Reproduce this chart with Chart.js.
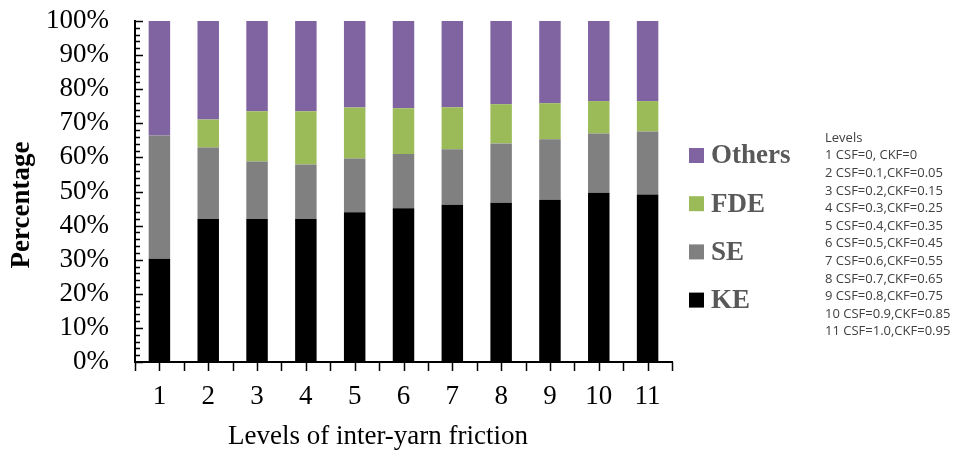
<!DOCTYPE html>
<html>
<head>
<meta charset="utf-8">
<script src="https://cdn.jsdelivr.net/npm/chart.js@4"></script>
<style>
  html, body { margin: 0; padding: 0; background: #fff; }
  canvas { display: block; }
</style>
</head>
<body>
<canvas id="myChart" width="969" height="452"></canvas>
<script>
"use strict";

var categories = ['1', '2', '3', '4', '5', '6', '7', '8', '9', '10', '11'];
var keValues = [30.3, 41.9, 41.9, 41.9, 43.9, 45.1, 46.1, 46.7, 47.6, 49.6, 49.1];
var seValues = [36.1, 21.0, 16.9, 16.0, 15.8, 15.9, 16.3, 17.4, 17.7, 17.4, 18.5];
var fdeValues = [0, 8.2, 14.7, 15.6, 14.9, 13.4, 12.3, 11.5, 10.6, 9.5, 8.9];
var othersValues = [33.6, 28.9, 26.5, 26.5, 25.4, 25.6, 25.3, 24.4, 24.1, 23.5, 23.5];
var levelNotes = [
    'Levels',
    '1 CSF=0, CKF=0',
    '2 CSF=0.1,CKF=0.05',
    '3 CSF=0.2,CKF=0.15',
    '4 CSF=0.3,CKF=0.25',
    '5 CSF=0.4,CKF=0.35',
    '6 CSF=0.5,CKF=0.45',
    '7 CSF=0.6,CKF=0.55',
    '8 CSF=0.7,CKF=0.65',
    '9 CSF=0.8,CKF=0.75',
    '10 CSF=0.9,CKF=0.85',
    '11 CSF=1.0,CKF=0.95'
];

var serif = '"Liberation Serif", "Times New Roman", serif';

// axis ticks, titles, legend and side notes
var decorations = {
    id: 'decorations',
    afterDraw: function (chart) {
        var c = chart.ctx;
        var area = chart.chartArea;
        var ys = chart.scales.y;
        c.save();
        c.strokeStyle = '#000';
        c.lineWidth = 1.5;
        c.beginPath();
        for (var v = 0; v <= 100; v += 2) {
            var py = Math.round(ys.getPixelForValue(v)) + 0.5;
            var len = v % 10 === 0 ? 8 : 5;
            c.moveTo(area.left, py);
            c.lineTo(area.left + len, py);
        }
        var step = (area.right - area.left) / (categories.length * 2);
        for (var i = 0; i <= categories.length * 2; i++) {
            var px = Math.round(area.left + i * step) + 0.5;
            c.moveTo(px, area.bottom);
            c.lineTo(px, area.bottom + 9);
        }
        c.stroke();

        c.fillStyle = '#000';
        c.font = '27px ' + serif;
        c.textAlign = 'center';
        c.textBaseline = 'middle';
        c.fillText('Levels of inter-yarn friction', 378, 437);

        c.save();
        c.translate(22, 205);
        c.rotate(-Math.PI / 2);
        c.font = 'bold 27px ' + serif;
        c.fillText('Percentage', 0, 0);
        c.restore();

        var ds = chart.data.datasets.slice().reverse();
        c.textAlign = 'left';
        ds.forEach(function (d, k) {
            var cy = 155.5 + k * 48.2;
            c.fillStyle = d.backgroundColor;
            c.fillRect(689, cy - 7.5, 15, 15);
            c.fillStyle = '#595959';
            c.font = 'bold 27px ' + serif;
            c.fillText(d.label, 711, cy + 1);
        });

        c.fillStyle = '#404040';
        c.font = '13px "Open Sans", sans-serif';
        levelNotes.forEach(function (t, k) {
            c.fillText(t, 825, 138 + k * 17.6);
        });
        c.restore();
    }
};

var ctx = document.querySelector('#myChart').getContext('2d');

var myChart = new Chart(ctx, {
    type: 'bar',
    data: {
        labels: categories,
        datasets: [
            { label: 'KE', data: keValues, backgroundColor: '#000000' },
            { label: 'SE', data: seValues, backgroundColor: '#808080' },
            { label: 'FDE', data: fdeValues, backgroundColor: '#9BBB59' },
            { label: 'Others', data: othersValues, backgroundColor: '#8064A2' }
        ]
    },
    options: {
        responsive: false,
        animation: false,
        datasets: {
            bar: {
                categoryPercentage: 1,
                barPercentage: 0.44
            }
        },
        layout: {
            padding: { left: 0, right: 297, top: 21, bottom: 0 }
        },
        plugins: {
            legend: { display: false },
            tooltip: { enabled: false }
        },
        scales: {
            x: {
                stacked: true,
                grid: { display: false, drawTicks: false },
                border: { display: true, color: '#000', width: 2 },
                ticks: {
                    color: '#000',
                    padding: 19,
                    autoSkip: false,
                    maxRotation: 0,
                    font: { family: serif, size: 27 }
                },
                afterFit: function (s) {
                    s.height = 90;
                    s.paddingLeft = 0;
                    s.paddingRight = 0;
                }
            },
            y: {
                stacked: true,
                min: 0,
                max: 100,
                grid: { display: false, drawTicks: false },
                border: { display: true, color: '#000', width: 2 },
                ticks: {
                    stepSize: 10,
                    autoSkip: false,
                    color: '#000',
                    padding: 26,
                    font: { family: serif, size: 27 },
                    callback: function (v) { return v + '%'; }
                },
                afterFit: function (s) {
                    s.width = 135;
                    s.paddingTop = 0;
                    s.paddingBottom = 0;
                }
            }
        }
    },
    plugins: [decorations]
});
</script>
</body>
</html>
